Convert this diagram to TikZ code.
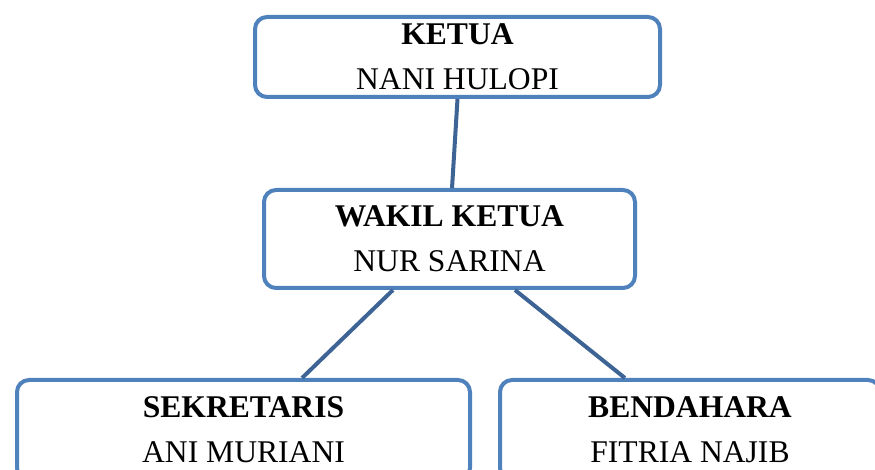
\documentclass[tikz,border=0pt]{standalone}
\usepackage{fontspec}
\setmainfont{Liberation Serif}
\usetikzlibrary{calc}
\definecolor{boxblue}{RGB}{79,129,189}
\definecolor{linkblue}{RGB}{62,100,150}
\begin{document}
\begin{tikzpicture}[x=0.75pt,y=-0.75pt,
  unitbox/.style={draw=boxblue,line width=3pt,rounded corners=9pt,fill=white,
    align=center,inner sep=0pt,font=\fontsize{23.7}{33.75}\selectfont},
  link/.style={draw=linkblue,line width=3pt}]
\clip (0,0) rectangle (875,470);
\fill[white] (0,0) rectangle (875,470);
\node[unitbox,minimum width=303.75pt,minimum height=60pt] (ketua) at (457.5,57)
  {\textbf{KETUA}\\NANI HULOPI};
\node[unitbox,minimum width=278.25pt,minimum height=73.5pt] (wakil) at (449.5,239)
  {\textbf{WAKIL KETUA}\\NUR SARINA};
\node[unitbox,minimum width=339.75pt,minimum height=75pt] (sek) at (243.5,430)
  {\textbf{SEKRETARIS}\\ANI MURIANI};
\node[unitbox,minimum width=285pt,minimum height=75pt] (bend) at (690,430)
  {\textbf{BENDAHARA}\\FITRIA NAJIB};
\draw[link] ([xshift=0pt]ketua.south) -- ([xshift=1.9pt]wakil.north);
\draw[link] ([xshift=-42.4pt]wakil.south) -- ([xshift=43.9pt]sek.north);
\draw[link] ([xshift=49.1pt]wakil.south) -- ([xshift=-48.8pt]bend.north);
\end{tikzpicture}
\end{document}
